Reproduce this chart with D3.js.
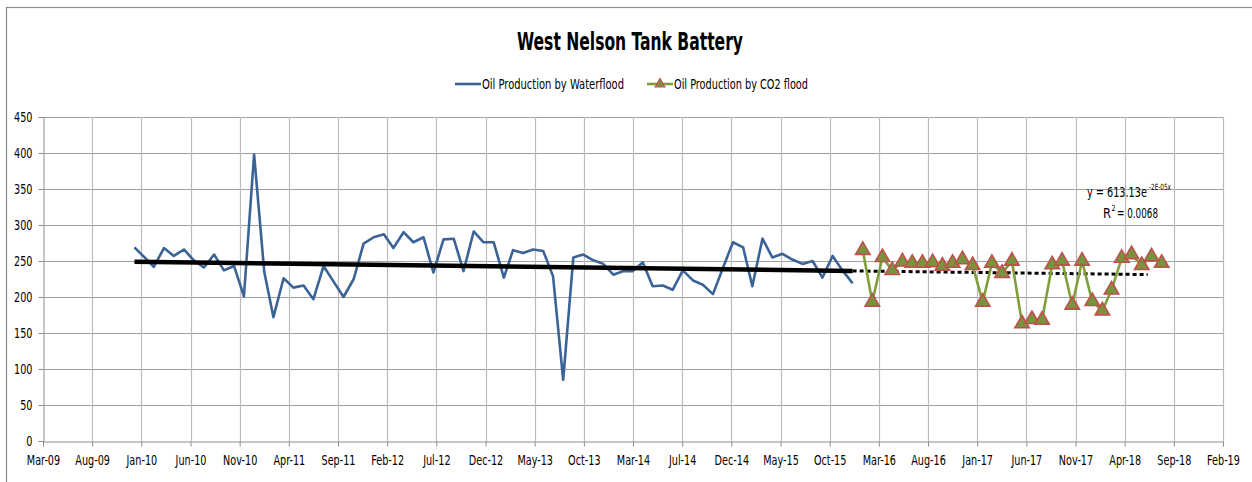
<!DOCTYPE html>
<html>
<head>
<meta charset="utf-8">
<script src="https://cdn.jsdelivr.net/npm/d3@7/dist/d3.min.js"></script>
<style>
  html, body { margin: 0; padding: 0; background: #fff; }
  svg { display: block; }
  text { font-family: "DejaVu Sans Condensed", "Liberation Sans Narrow", sans-serif; fill: #000; }
</style>
</head>
<body>
<svg id="chart" width="1252" height="482"></svg>
<script>
// ---------- DATA ----------
const title = "West Nelson Tank Battery";
const seriesNames = ["Oil Production by Waterflood", "Oil Production by CO2 flood"];

// Waterflood: monthly values, Jan-2010 .. Jan-2016
const waterStart = "2010-01-01";
const waterflood = [
  269, 255, 242, 268, 257, 266, 251, 241, 259, 237, 243, 201,
  398, 235, 172, 226, 213, 216, 197, 243, 221, 200, 225, 274,
  283, 287, 268, 290, 276, 283, 234, 280, 281, 236, 291, 276,
  276, 227, 265, 261, 266, 264, 229, 85, 255, 259, 251, 246,
  231, 236, 236, 248, 215, 216, 210, 237, 223, 217, 204, 240,
  276, 269, 215, 281, 255, 260, 252, 246, 250, 227, 257, 237,
  219
];

// CO2 flood: monthly values, Feb-2016 .. Aug-2018
const co2Start = "2016-02-01";
const co2flood = [
  265, 193, 255, 237, 249, 247, 247, 248, 243, 247, 252, 244,
  193, 247, 233, 250, 163, 169, 168, 245, 250, 189, 250, 194,
  181, 210, 254, 259, 244, 256, 247
];

// Axis
const yTicks = [0, 50, 100, 150, 200, 250, 300, 350, 400, 450];
const xAxisStart = "2009-03-28";   // first axis date
const xMajorUnitDays = 150;        // days between labels
const xTickLabels = ["Mar-09","Aug-09","Jan-10","Jun-10","Nov-10","Apr-11","Sep-11","Feb-12",
  "Jul-12","Dec-12","May-13","Oct-13","Mar-14","Jul-14","Dec-14","May-15","Oct-15","Mar-16",
  "Aug-16","Jan-17","Jun-17","Nov-17","Apr-18","Sep-18","Feb-19"];
const trendForecastDays = 900;
const trendLabel = { coef: "613.13", exp: "-2E-05x", r2: "0.0068" };

// ---------- LAYOUT ----------
const svg = d3.select("#chart");
const M = { left: 43, right: 1223, top: 117, bottom: 441 };
const FONT = '"DejaVu Sans Condensed", "Liberation Sans Narrow", sans-serif';

// squeeze text horizontally to a target width, keeping its height
function fitWidth(sel, w) {
  sel.attr("textLength", w).attr("lengthAdjust", "spacingAndGlyphs");
}
// place a text at (px,py) scaled horizontally so that it is w pixels wide
function scaledText(px, py, size, str, w) {
  const g = svg.append("g");
  const t = g.append("text").attr("x", 0).attr("y", 0).attr("font-size", size).text(str);
  const sx = w / t.node().getComputedTextLength();
  g.attr("transform", `translate(${px},${py}) scale(${sx},1)`);
  return t;
}

const parse = d3.utcParse("%Y-%m-%d");
const x0 = parse(xAxisStart);
const xTickDates = xTickLabels.map((_, i) => d3.utcDay.offset(x0, i * xMajorUnitDays));
const x = d3.scaleUtc()
  .domain([x0, xTickDates[xTickDates.length - 1]])
  .range([M.left, M.right]);
const y = d3.scaleLinear().domain([0, 450]).range([M.bottom, M.top]);

const wfData = waterflood.map((v, i) => ({ d: d3.utcMonth.offset(parse(waterStart), i), v }));
const coData = co2flood.map((v, i) => ({ d: d3.utcMonth.offset(parse(co2Start), i), v }));

// chart border
svg.append("rect").attr("x", 6.5).attr("y", 7.5).attr("width", 1300).attr("height", 600)
  .attr("fill", "#fff").attr("stroke", "#8c8c8c").attr("stroke-width", 1.2);

// gridlines
const grid = svg.append("g");
grid.selectAll("line.h").data(yTicks.slice(1)).join("line")
  .attr("x1", M.left).attr("x2", M.right)
  .attr("y1", d => Math.round(y(d)) + 0.5).attr("y2", d => Math.round(y(d)) + 0.5)
  .attr("stroke", "#a0a0a0").attr("stroke-width", 1.1);
grid.selectAll("line.v").data(xTickDates.slice(1)).join("line")
  .attr("x1", d => Math.round(x(d)) + 0.5).attr("x2", d => Math.round(x(d)) + 0.5)
  .attr("y1", M.top).attr("y2", M.bottom)
  .attr("stroke", "#bcbcbc").attr("stroke-width", 1.2);

// axes
const yAxis = svg.append("g").attr("transform", `translate(${M.left + 0.5},0)`)
  .call(d3.axisLeft(y).tickValues(yTicks).tickSize(5).tickPadding(6));
const xAxis = svg.append("g").attr("transform", `translate(0,${M.bottom + 0.5})`)
  .call(d3.axisBottom(x).tickValues(xTickDates).tickSize(5).tickPadding(8)
    .tickFormat((d, i) => xTickLabels[i]));
[yAxis, xAxis].forEach(a => {
  a.select(".domain").attr("stroke", "#8c8c8c");
  a.selectAll(".tick line").attr("stroke", "#8c8c8c");
  a.selectAll(".tick text").attr("fill", "#000").style("font-family", FONT);
});
yAxis.selectAll(".tick text").style("font-size", "14.5px")
  .each(function () { fitWidth(d3.select(this), this.getComputedTextLength() * 0.74); });
xAxis.selectAll(".tick text").style("font-size", "14.5px")
  .each(function () { fitWidth(d3.select(this), this.getComputedTextLength() * 0.74); });

// waterflood line
const line = d3.line().x(d => x(d.d)).y(d => y(d.v));
svg.append("path").datum(wfData).attr("d", line)
  .attr("fill", "none").attr("stroke", "#3b6396").attr("stroke-width", 2.6)
  .attr("stroke-linejoin", "round");

// exponential trendline fitted on waterflood data (ln y = ln a + b t)
const DAY = 86400000;
const tx = wfData.map(p => p.d.getTime() / DAY);
const ty = wfData.map(p => Math.log(p.v));
const mx = d3.mean(tx), my = d3.mean(ty);
const b = d3.sum(tx, (t, i) => (t - mx) * (ty[i] - my)) / d3.sum(tx, t => (t - mx) * (t - mx));
const lnA = my - b * mx;
const trend = t => Math.exp(lnA + b * t.getTime() / DAY);

const tStart = wfData[0].d, tEnd = wfData[wfData.length - 1].d;
const tFore = d3.utcDay.offset(tEnd, trendForecastDays);
svg.append("line")
  .attr("x1", x(tStart)).attr("y1", y(trend(tStart)))
  .attr("x2", x(tEnd)).attr("y2", y(trend(tEnd)))
  .attr("stroke", "#000").attr("stroke-width", 4.5);
svg.append("line")
  .attr("x1", x(tEnd)).attr("y1", y(trend(tEnd)))
  .attr("x2", x(tFore)).attr("y2", y(trend(tFore)))
  .attr("stroke", "#000").attr("stroke-width", 3).attr("stroke-dasharray", "4,3");

// CO2 line + triangle markers
svg.append("path").datum(coData).attr("d", line)
  .attr("fill", "none").attr("stroke", "#7e9f3c").attr("stroke-width", 2.6)
  .attr("stroke-linejoin", "round");
const tri = d3.symbol().type(d3.symbolTriangle).size(90);
svg.append("g").selectAll("path").data(coData).join("path")
  .attr("d", tri)
  .attr("transform", d => `translate(${x(d.d)},${y(d.v)})`)
  .attr("fill", "#77933c").attr("stroke", "#c0504d").attr("stroke-width", 1.6);

// trendline label: main text and superscripts as separate, non-overlapping texts
scaledText(1087, 197, 14, `y = ${trendLabel.coef}e`, 60);
scaledText(1149, 190, 8.5, trendLabel.exp, 22);
scaledText(1103, 218, 14, "R", 8);
scaledText(1111.5, 211, 8.5, "2", 4);
scaledText(1117, 218, 14, `= ${trendLabel.r2}`, 41);

// title
svg.append("text").attr("x", 630).attr("y", 50).attr("text-anchor", "middle")
  .attr("font-size", 24).attr("font-weight", "bold").text(title).call(fitWidth, 226);

// legend
const lg = svg.append("g").attr("transform", "translate(0,84)");
lg.append("line").attr("x1", 455).attr("x2", 481).attr("y1", 0).attr("y2", 0)
  .attr("stroke", "#3b6396").attr("stroke-width", 2.6);
lg.append("text").attr("x", 482).attr("y", 5).attr("font-size", 14.5)
  .text(seriesNames[0]).call(fitWidth, 142);
lg.append("line").attr("x1", 647).attr("x2", 673).attr("y1", 0).attr("y2", 0)
  .attr("stroke", "#7e9f3c").attr("stroke-width", 2.6);
lg.append("path").attr("d", d3.symbol().type(d3.symbolTriangle).size(40))
  .attr("transform", "translate(660,0)")
  .attr("fill", "#77933c").attr("stroke", "#c0504d").attr("stroke-width", 1.2);
lg.append("text").attr("x", 674).attr("y", 5).attr("font-size", 14.5)
  .text(seriesNames[1]).call(fitWidth, 134);
</script>
</body>
</html>
